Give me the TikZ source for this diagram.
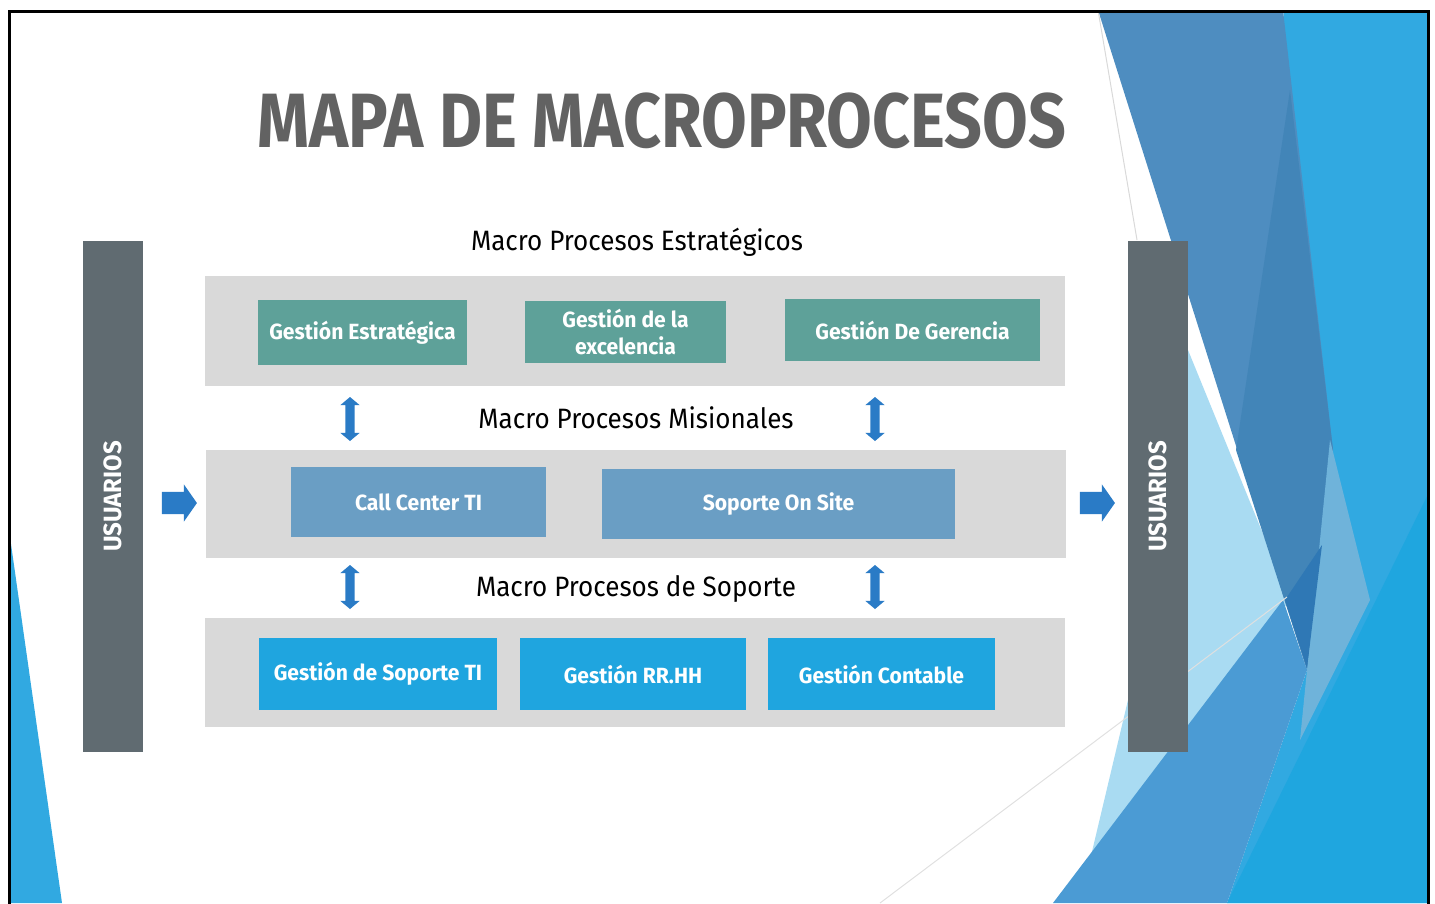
\documentclass[tikz,border=0pt]{standalone}
\usepackage{fontspec}
\setmainfont[FakeStretch=0.96]{Fira Sans}
\newfontfamily\titfont[FakeStretch=0.86]{Fira Sans}
\newfontfamily\etiqfont[FakeStretch=0.93]{Fira Sans}
\usepackage{xcolor}
\usepackage{tikz}
\usetikzlibrary{shapes.arrows}

\definecolor{cTitulo}{HTML}{626262}
\definecolor{cFranja}{HTML}{D9D9D9}
\definecolor{cVerde}{HTML}{5EA199}
\definecolor{cAcero}{HTML}{6A9EC4}
\definecolor{cCeleste}{HTML}{1FA5DF}
\definecolor{cPizarra}{HTML}{606B71}
\definecolor{cFlecha}{HTML}{2A7BC6}
\definecolor{cFondoA}{HTML}{31A9E1}
\definecolor{cFondoB}{HTML}{4E8DC0}
\definecolor{cFondoC}{HTML}{4285B8}
\definecolor{cFondoD}{HTML}{A9DBF2}
\definecolor{cFondoE}{HTML}{4B9BD4}
\definecolor{cFondoF}{HTML}{2F78B5}
\definecolor{cFondoG}{HTML}{6FB3DA}
\definecolor{cFondoH}{HTML}{1FA6DF}

\begin{document}
\begin{tikzpicture}[x=1pt,y=-1pt,
    franja/.style={fill=cFranja, minimum width=860pt, minimum height=110pt, inner sep=0pt},
    caja/.style={text=white, font=\fontsize{22}{27}\selectfont\bfseries, inner sep=0pt, align=center},
    usu/.style={fill=cPizarra, minimum width=60pt, minimum height=511pt, inner sep=0pt},
    etiqueta/.style={anchor=base, font=\etiqfont\fontsize{28}{29}\selectfont},
    flechah/.style={single arrow, fill=cFlecha, minimum height=35pt, inner xsep=0pt, inner ysep=11pt,
      single arrow head extend=7.5pt, single arrow tip angle=110},
    flechav/.style={double arrow, fill=cFlecha, rotate=90, minimum height=44pt, inner xsep=0pt, inner ysep=4.5pt,
      double arrow head extend=5pt, double arrow tip angle=100}]
  \useasboundingbox (0,0) rectangle (1435,903);
  % fondo
  \begin{scope}
    \clip (9,11) rectangle (1428,903);
    \fill[cFondoA] (1283,0) -- (1435,0) -- (1435,903) -- (1227,903) -- (1307,670) -- cycle;
    \fill[cFondoH] (1227,903) -- (1435,480) -- (1435,903) -- cycle;
    \fill[cFondoD] (1188,350) -- (1290,600) -- (1090,860) -- (1128,700) -- cycle;
    \fill[cFondoB] (1098,10) -- (1283,10) -- (1333,450) -- (1307,670) -- cycle;
    \fill[cFondoC] (1290,90) -- (1333,450) -- (1307,670) -- (1236,450) -- cycle;
    \fill[cFondoG] (1330,440) -- (1370,600) -- (1300,740) -- (1318,560) -- cycle;
    \fill[cFondoF] (1285,600) -- (1322,545) -- (1307,668) -- cycle;
    \fill[cFondoE] (1283,600) -- (1307,670) -- (1227,903) -- (1053,903) -- cycle;
    \fill[cFondoA] (10,537) -- (62,903) -- (10,903) -- cycle;
    \draw[black!15, line width=1pt] (1098,10) -- (1137,240);
    \draw[black!12, line width=1pt] (880,903) -- (1287,597);
  \end{scope}
  \draw[line width=3pt] (9,910) -- (9,11) -- (1428,11) -- (1428,910);

  \node[anchor=base, text=cTitulo, font=\titfont\fontsize{77}{80}\selectfont\bfseries] (T) at (662,147) {MAPA DE MACROPROCESOS};

  % usuarios
  \node[usu] (U1) at (113,496.5) {};
  \node[usu] (U2) at (1158,496.5) {};
  \node[rotate=90, text=white, font=\fontsize{25}{26}\selectfont\bfseries] at (U1) {USUARIOS};
  \node[rotate=90, text=white, font=\fontsize{25}{26}\selectfont\bfseries] at (U2) {USUARIOS};

  % franjas
  \node[franja] (F1) at (635,331) {};
  \node[franja, minimum height=108pt] (F2) at (635.5,504) {};
  \node[franja, minimum height=109pt] (F3) at (635,672.5) {};

  \node[etiqueta] (L1) at (637,250) {Macro Procesos Estratégicos};
  \node[etiqueta] (L2) at (636,428) {Macro Procesos Misionales};
  \node[etiqueta] (L3) at (636,596) {Macro Procesos de Soporte};

  % estrategicos
  \node[caja, fill=cVerde, minimum width=209pt, minimum height=65pt] (E1) at (362.5,332.5) {Gestión Estratégica};
  \node[caja, fill=cVerde, minimum width=201pt, minimum height=62pt] (E2) at (625.5,332) {Gestión de la\\excelencia};
  \node[caja, fill=cVerde, minimum width=255pt, minimum height=62pt] (E3) at (912.5,330) {Gestión De Gerencia};
  % misionales
  \node[caja, fill=cAcero, minimum width=255pt, minimum height=70pt] (M1) at (418.5,502) {Call Center TI};
  \node[caja, fill=cAcero, minimum width=353pt, minimum height=70pt] (M2) at (778.5,504) {Soporte On Site};
  % soporte
  \node[caja, fill=cCeleste, minimum width=238pt, minimum height=72pt] (S1) at (378,674) {Gestión de Soporte TI};
  \node[caja, fill=cCeleste, minimum width=226pt, minimum height=72pt] (S2) at (633,674) {Gestión RR.HH};
  \node[caja, fill=cCeleste, minimum width=227pt, minimum height=72pt] (S3) at (881.5,674) {Gestión Contable};

  % flechas
  \node[flechah] (A1) at (175.5,503) {};
  \node[flechah] (A2) at (1093.5,503) {};
  \node[flechav] (V1) at (350,419) {};
  \node[flechav] (V2) at (875,419) {};
  \node[flechav] (V3) at (350,587) {};
  \node[flechav] (V4) at (875,587) {};
\end{tikzpicture}
\end{document}
